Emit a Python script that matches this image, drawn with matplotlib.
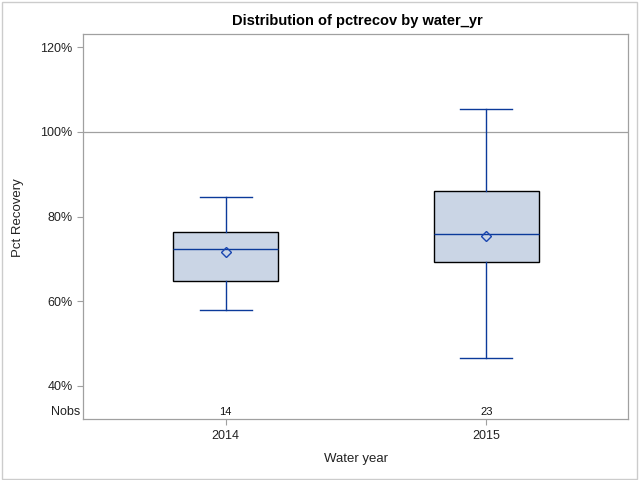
import matplotlib
matplotlib.use("Agg")
import matplotlib.pyplot as plt
from matplotlib.patches import Rectangle

plt.rcParams['font.family'] = ['Liberation Sans', 'DejaVu Sans']

# Data
categories = ['2014', '2015']
whisker_low = [58.0, 46.7]
q1 = [64.9, 69.3]
median = [72.4, 75.9]
q3 = [76.4, 86.1]
whisker_high = [84.6, 105.3]
means = [71.7, 75.3]
nobs = [14, 23]
y_ticks = [40, 60, 80, 100, 120]
ref_line = 100

fill_col = '#CAD5E5'
line_col = '#0B3A9A'
mean_col = '#1A46B0'
axis_col = '#A0A0A0'

fig = plt.figure(figsize=(6.4, 4.8), dpi=100)
ax = fig.add_axes([83.3 / 640, 1 - 419 / 480, 545 / 640, 385 / 480])

stats = []
for i, c in enumerate(categories):
    stats.append(dict(label=c, whislo=whisker_low[i], q1=q1[i], med=median[i],
                      q3=q3[i], whishi=whisker_high[i], mean=means[i], fliers=[]))

positions = list(range(len(categories)))
ax.axhline(ref_line, color=axis_col, lw=0.9, zorder=1)
ax.bxp(stats, positions=positions, widths=0.403, capwidths=0.2,
       patch_artist=True, showmeans=True, showfliers=False,
       boxprops=dict(facecolor=fill_col, edgecolor='black', linewidth=1.0),
       whiskerprops=dict(color=line_col, linewidth=1.0),
       capprops=dict(color=line_col, linewidth=1.0),
       medianprops=dict(color=line_col, linewidth=1.0),
       meanprops=dict(marker='D', markersize=5.5, markerfacecolor='none',
                      markeredgecolor=mean_col, markeredgewidth=1.0),
       zorder=3)

ax.set_xlim(-0.546, 1.545)
ax.set_ylim(32.2, 123.1)
ax.set_yticks(y_ticks)
ax.set_yticklabels([f'{v}%' for v in y_ticks])
ax.set_xticks(positions)
ax.set_xticklabels(categories)

for s in ax.spines.values():
    s.set_color(axis_col)
    s.set_linewidth(0.9)
ax.tick_params(axis='both', colors=axis_col, labelcolor='#222222',
               labelsize=9, length=4.3, width=0.8, pad=3.5)

# Nobs row
for p, n in zip(positions, nobs):
    ax.text(p, 33.9, str(n), ha='center', va='center', fontsize=8, color='#111111')
ax.text(-0.006, 33.9, 'Nobs', transform=ax.get_yaxis_transform(), ha='right',
        va='center', fontsize=9, color='#222222')

fig.text(357 / 640, 1 - 25 / 480, 'Distribution of pctrecov by water_yr',
         ha='center', va='baseline', fontsize=10.5, fontweight='bold')
fig.text(355.6 / 640, 1 - 459 / 480, 'Water year', ha='center', va='center',
         fontsize=9.5, color='#222222')
fig.text(18 / 640, 1 - 218 / 480, 'Pct Recovery', ha='center', va='center',
         rotation=90, fontsize=9.5, color='#222222')

fig.patches.append(Rectangle((1.5 / 640, 1.5 / 480), 635.5 / 640, 477 / 480,
                             transform=fig.transFigure, fill=False,
                             edgecolor='#CCCCCC', linewidth=1.0))

fig.savefig('out.png', dpi=100)
